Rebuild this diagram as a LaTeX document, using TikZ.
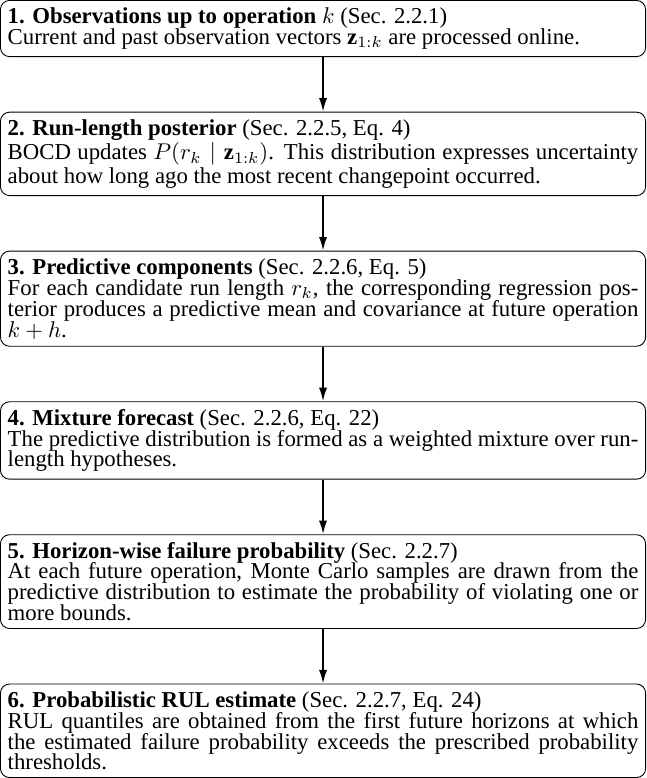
\documentclass[tikz,border=0pt]{standalone}
\usepackage{amsmath, amssymb}
\usepackage{fontspec}
\setmainfont{Liberation Serif}
\usepackage{tikz}
\usetikzlibrary{arrows.meta, positioning}

\begin{document}
\begin{tikzpicture}[->,>={Latex[length=6pt,width=3.6pt]},thick,node distance=24pt]
                \tikzstyle{stage}=[draw=black,thin,rounded corners=4pt,text width=277pt,
                        align=justify,inner sep=3.2pt,font=\fontsize{10}{9.2}\selectfont]
                \node[stage]    (S1)                    {\textbf{1. Observations up to operation $k$} (Sec. 2.2.1)\\
                        Current and past observation vectors $\mathbf{z}_{1:k}$ are processed online.};
                \node[stage]    (S2)[below=of S1]       {\textbf{2. Run-length posterior} (Sec. 2.2.5, Eq. 4)\\
                        BOCD updates $P(r_k \mid \mathbf{z}_{1:k})$. This distribution expresses uncertainty about how long ago the most recent changepoint occurred.};
                \node[stage]    (S3)[below=of S2]       {\textbf{3. Predictive components} (Sec. 2.2.6, Eq. 5)\\
                        For each candidate run length $r_k$, the corresponding regression posterior produces a predictive mean and covariance at future operation $k+h$.};
                \node[stage]    (S4)[below=of S3]       {\textbf{4. Mixture forecast} (Sec. 2.2.6, Eq. 22)\\
                        The predictive distribution is formed as a weighted mixture over run-length hypotheses.};
                \node[stage]    (S5)[below=of S4]       {\textbf{5. Horizon-wise failure probability} (Sec. 2.2.7)\\
                        At each future operation, Monte Carlo samples are drawn from the predictive distribution to estimate the probability of violating one or more bounds.};
                \node[stage]    (S6)[below=of S5]       {\textbf{6. Probabilistic RUL estimate} (Sec. 2.2.7, Eq. 24)\\
                        RUL quantiles are obtained from the first future horizons at which the estimated failure probability exceeds the prescribed probability thresholds.};
                \coordinate     (M)[right=4.4pt of S6.south east];

                \path
                (S1) edge   (S2)
                (S2) edge   (S3)
                (S3) edge   (S4)
                (S4) edge   (S5)
                (S5) edge   (S6);
            \end{tikzpicture}
\end{document}
